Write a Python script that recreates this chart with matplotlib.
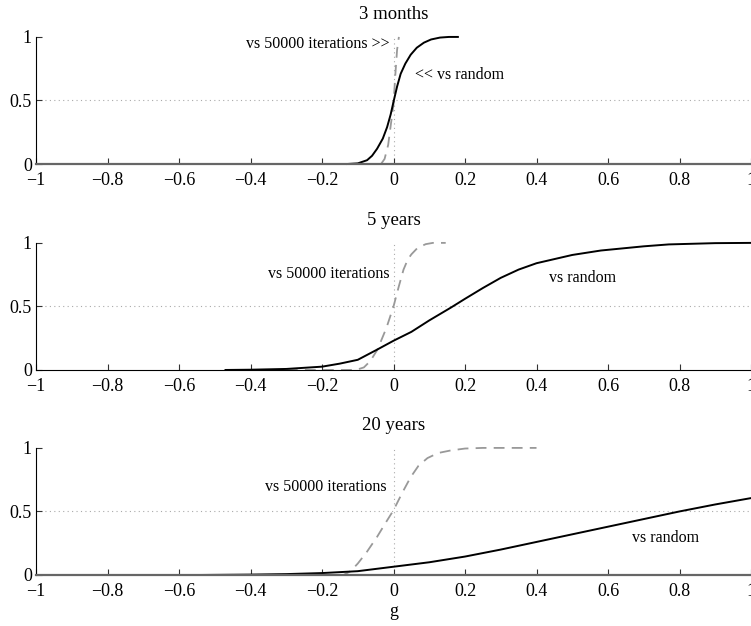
import numpy as np
import matplotlib
matplotlib.use('Agg')
import matplotlib.pyplot as plt

plt.rcParams['font.family'] = ['Liberation Serif', 'DejaVu Serif']
plt.rcParams['font.size'] = 13

# 3 months
m3_rand_x = [-0.13, -0.1, -0.074, -0.06, -0.046, -0.03, -0.018, -0.008, 0.0, 0.01, 0.02, 0.033, 0.048, 0.065, 0.085, 0.105, 0.13, 0.155, 0.18]
m3_rand_y = [0.0, 0.005, 0.03, 0.065, 0.12, 0.2, 0.29, 0.39, 0.49, 0.61, 0.71, 0.79, 0.86, 0.915, 0.955, 0.98, 0.995, 1.0, 1.0]
m3_iter_x = [-0.035, -0.025, -0.015, -0.008, 0.0, 0.005, 0.01, 0.015]
m3_iter_y = [0.0, 0.04, 0.15, 0.3, 0.47, 0.7, 0.9, 1.0]

# 5 years
y5_rand_x = [-0.47, -0.4, -0.3, -0.2, -0.15, -0.1, -0.046, 0.0, 0.05, 0.1, 0.16, 0.2, 0.25, 0.3, 0.35, 0.4, 0.5, 0.58, 0.7, 0.77, 0.9, 1.0]
y5_rand_y = [0.0, 0.002, 0.008, 0.026, 0.05, 0.08, 0.16, 0.23, 0.3, 0.39, 0.49, 0.56, 0.645, 0.725, 0.79, 0.84, 0.905, 0.94, 0.973, 0.988, 0.998, 1.0]
y5_iter_x = [-0.45, -0.12, -0.1, -0.083, -0.065, -0.045, -0.02, 0.0, 0.015, 0.028, 0.04, 0.05, 0.067, 0.09, 0.11, 0.146]
y5_iter_y = [0.0, 0.0, 0.005, 0.02, 0.07, 0.16, 0.33, 0.5, 0.66, 0.79, 0.87, 0.91, 0.96, 0.99, 1.0, 1.0]

# 20 years
y20_rand_x = [-0.54, -0.4, -0.3, -0.2, -0.1, 0.0, 0.1, 0.2, 0.3, 0.4, 0.5, 0.6, 0.7, 0.8, 0.9, 1.0]
y20_rand_y = [0.0, 0.003, 0.007, 0.015, 0.03, 0.065, 0.1, 0.145, 0.2, 0.26, 0.32, 0.38, 0.44, 0.5, 0.555, 0.605]
y20_iter_x = [-0.25, -0.14, -0.12, -0.1, -0.075, -0.046, -0.02, 0.0, 0.025, 0.048, 0.07, 0.095, 0.125, 0.16, 0.2, 0.25, 0.4]
y20_iter_y = [0.0, 0.0, 0.03, 0.09, 0.18, 0.30, 0.42, 0.51, 0.65, 0.77, 0.86, 0.92, 0.96, 0.98, 0.995, 1.0, 1.0]

titles = ['3 months', '5 years', '20 years']
xticks = [-1, -0.8, -0.6, -0.4, -0.2, 0, 0.2, 0.4, 0.6, 0.8, 1]
xticklabels = ['\u22121', '\u22120.8', '\u22120.6', '\u22120.4', '\u22120.2', '0', '0.2', '0.4', '0.6', '0.8', '1']
yticks = [0, 0.5, 1]
yticklabels = ['0', '0.5', '1']

series = [
    (m3_rand_x, m3_rand_y, m3_iter_x, m3_iter_y),
    (y5_rand_x, y5_rand_y, y5_iter_x, y5_iter_y),
    (y20_rand_x, y20_rand_y, y20_iter_x, y20_iter_y),
]

# label text, x, y, ha for each panel
iter_labels = [('vs 50000 iterations >>', -0.012, 0.945, 'right'),
               ('vs 50000 iterations', -0.012, 0.756, 'right'),
               ('vs 50000 iterations', -0.018, 0.69, 'right')]
rand_labels = [('<< vs random', 0.06, 0.70, 'left'),
               ('vs random', 0.53, 0.72, 'center'),
               ('vs random', 0.76, 0.29, 'center')]

fig = plt.figure(figsize=(7.51, 6.26), dpi=100)
bottoms = [0.738, 0.409, 0.0815]

for i in range(3):
    ax = fig.add_axes([0.048, bottoms[i], 0.952, 0.203])
    rx, ry, ix, iy = series[i]
    ax.axhline(0.5, color='#aaaaaa', ls=(0, (1, 3)), lw=0.8, zorder=0)
    ax.axvline(0, color='#aaaaaa', ls=(0, (1, 3)), lw=0.8, zorder=0)
    ax.plot(ix, iy, color='#999999', ls=(0, (6, 4)), lw=1.3, clip_on=False)
    ax.plot(rx, ry, color='black', lw=1.4, clip_on=False)
    ax.set_xlim(-1, 1)
    ax.set_ylim(0, 1)
    ax.set_xticks(xticks)
    ax.set_xticklabels(xticklabels)
    ax.set_yticks(yticks)
    ax.set_yticklabels(yticklabels)
    ax.tick_params(direction='in', length=4, width=0.8, color='#333333', labelsize=13)
    ax.tick_params(axis='x', pad=6)
    ax.tick_params(axis='y', pad=3)
    ax.spines['top'].set_visible(False)
    ax.spines['right'].set_visible(False)
    if i != 1:
        ax.spines['bottom'].set_color('#666666')
        ax.spines['bottom'].set_linewidth(1.6)
    ax.set_title(titles[i], pad=13, fontsize=13.5)
    t, x, y, ha = iter_labels[i]
    ax.text(x, y, t, ha=ha, va='center', fontsize=11.5)
    t, x, y, ha = rand_labels[i]
    ax.text(x, y, t, ha=ha, va='center', fontsize=11.5)
    if i == 2:
        ax.set_xlabel('g', labelpad=2)

fig.savefig('out.png', dpi=100)
